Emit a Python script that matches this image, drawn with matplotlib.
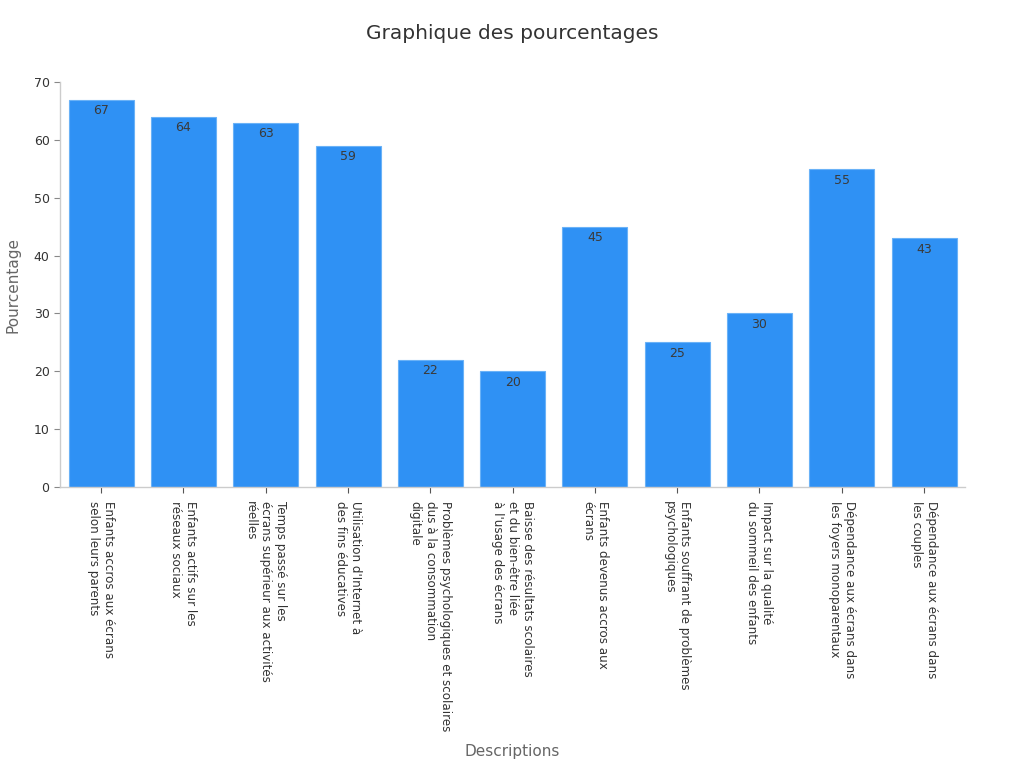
import numpy as np
import matplotlib.pyplot as plt

categories = [
    "Enfants accros aux écrans\nselon leurs parents",
    "Enfants actifs sur les\nréseaux sociaux",
    "Temps passé sur les\nécrans supérieur aux activités\nréelles",
    "Utilisation d'Internet à\ndes fins éducatives",
    "Problèmes psychologiques et scolaires\ndus à la consommation\ndigitale",
    "Baisse des résultats scolaires\net du bien-être liée\nà l'usage des écrans",
    "Enfants devenus accros aux\nécrans",
    "Enfants souffrant de problèmes\npsychologiques",
    "Impact sur la qualité\ndu sommeil des enfants",
    "Dépendance aux écrans dans\nles foyers monoparentaux",
    "Dépendance aux écrans dans\nles couples",
]
values = [67, 64, 63, 59, 22, 20, 45, 25, 30, 55, 43]

fig = plt.figure(figsize=(10.24, 7.68), dpi=100)
ax = fig.add_axes([0.0586, 0.366, 0.884, 0.527])

x = np.arange(len(categories))
bars = ax.bar(x, values, width=0.79, color="#2F91F4", edgecolor="#6AB2F7", linewidth=0.8)

for b, v in zip(bars, values):
    ax.text(b.get_x() + b.get_width() / 2, v - 0.8, str(v), ha="center", va="top",
            fontsize=9, color="#3a3a3a")

ax.set_xlim(-0.5, len(categories) - 0.5)
ax.set_ylim(0, 70)
ax.set_yticks(range(0, 71, 10))
ax.set_xticks(x)
ax.set_xticklabels(categories, rotation=-90, ha="center", va="top", fontsize=8.6,
                   color="#333333", linespacing=1.2, multialignment="left")
ax.tick_params(axis="y", labelsize=9, colors="#333333", length=4, color="#888888")
ax.tick_params(axis="x", length=4, color="#555555", pad=6)

for s in ["top", "right"]:
    ax.spines[s].set_visible(False)
for s in ["left", "bottom"]:
    ax.spines[s].set_color("#cccccc")
    ax.spines[s].set_linewidth(1)

ax.set_ylabel("Pourcentage", fontsize=11, color="#666666")
ax.yaxis.set_label_coords(-0.044, 0.5)
fig.text(0.5, 0.022, "Descriptions", ha="center", va="center", fontsize=11, color="#666666")
fig.text(0.5, 0.957, "Graphique des pourcentages", ha="center", va="center",
         fontsize=14.5, color="#333333")

fig.savefig("out.png", dpi=100)
